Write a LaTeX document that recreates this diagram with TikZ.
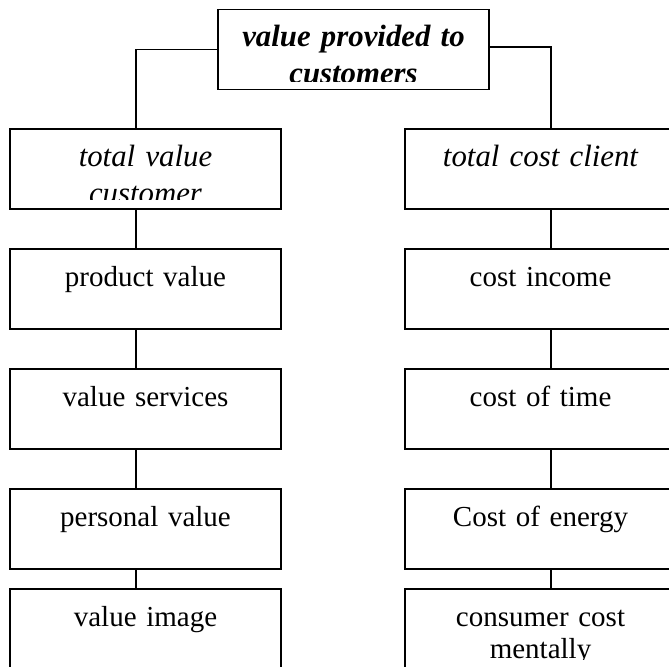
\documentclass[tikz,border=0pt]{standalone}
\usepackage{fontspec}
\setmainfont{Liberation Serif}
\usetikzlibrary{positioning}

\begin{document}
\begin{tikzpicture}[
  line width=0.8pt,
  cellcut/.store in=\cellcut,
  cellfont/.store in=\cellfont,
  cellcut=5pt,
  cellfont=\fontsize{14.5}{16}\selectfont,
  cellbox/.style={
    draw,
    minimum width=135.5pt,
    minimum height=40pt,
    inner sep=0pt,
    outer sep=0pt,
    path picture={
      \clip ([yshift=\cellcut]path picture bounding box.south west)
        rectangle (path picture bounding box.north east);
      \node[anchor=base, inner sep=0pt, text width=130pt, align=center, font=\cellfont]
        at ([yshift=-18.5pt]path picture bounding box.north) {#1};
    }
  },
  slanted/.style={cellfont=\fontsize{15.4}{18.5}\selectfont\itshape},
  node distance=20pt and 62pt
]

  \useasboundingbox (0,0) rectangle (334.5pt,-333pt);

  % Top box
  \node[cellbox={\bfseries value provided to\\customers}, slanted, cellcut=4pt]
    (top) at (176.75pt,-24.75pt) {};

  % --- LEFT COLUMN: value ---
  \node[cellbox={total value\\customer}, slanted] (tv) at (72.75pt,-84.5pt) {};
  \node[cellbox={product value}, below=of tv] (pv) {};
  \node[cellbox={value services}, below=of pv] (vs) {};
  \node[cellbox={personal value}, below=of vs] (ps) {};
  \node[cellbox={value image}, below=10pt of ps] (vi) {};

  % --- RIGHT COLUMN: cost ---
  \node[cellbox={total cost client}, slanted, right=of tv] (tc) {};
  \node[cellbox={cost income}, right=of pv] (ci) {};
  \node[cellbox={cost of time}, right=of vs] (ct) {};
  \node[cellbox={Cost of energy}, right=of ps] (ce) {};
  \node[cellbox={consumer cost\\mentally}, right=of vi] (cm) {};

  % Connecting lines
  \coordinate (lspine) at (68pt,0);
  \coordinate (rspine) at (275.5pt,0);
  \draw (top.west) -| (lspine |- tv.north);
  \draw ([yshift=1.2pt]top.east) -| (rspine |- tc.north);
  \foreach \a/\b in {tv/pv,pv/vs,vs/ps,ps/vi}
    \draw (lspine |- \a.south) -- (lspine |- \b.north);
  \foreach \a/\b in {tc/ci,ci/ct,ct/ce,ce/cm}
    \draw (rspine |- \a.south) -- (rspine |- \b.north);

\end{tikzpicture}
\end{document}
